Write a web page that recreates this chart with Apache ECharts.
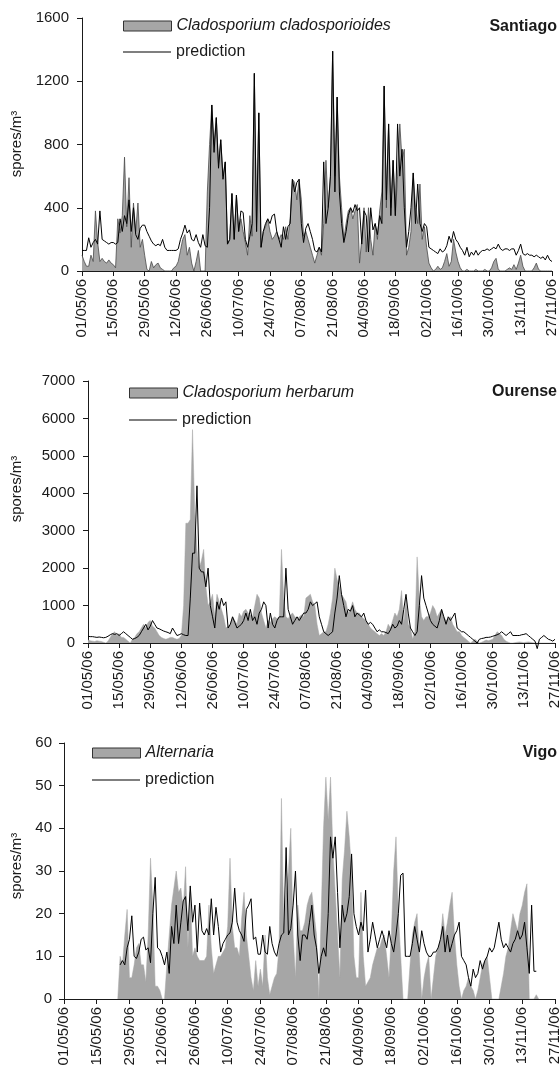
<!DOCTYPE html>
<html>
<head>
<meta charset="utf-8">
<script src="https://cdn.jsdelivr.net/npm/echarts@6/dist/echarts.min.js"></script>
<style>
html, body { margin: 0; padding: 0; background: #fff; }
#chart { width: 559px; height: 1075px; }
</style>
</head>
<body>
<div id="chart"></div>
<script>
// daily categories 01/05/06 .. 27/11/06
var firstDay = [2006, 4, 1];
var dayCount = 211;

var santiagoObs = [
    100, 60, 30, 30, 100, 60, 380, 180, 60, 80, 60, 50, 70, 50,
    40, 20, 330, 240, 350, 720, 280, 590, 150, 430, 250, 430, 150, 200,
    100, 10, 0, 60, 20, 40, 50, 20, 10, 0, 0, 0, 0, 20,
    30, 60, 130, 200, 230, 100, 150, 50, 0, 60, 130, 0, 0, 0,
    500, 800, 1050, 800, 970, 680, 830, 600, 690, 170, 200, 490, 200, 480,
    250, 330, 250, 180, 100, 350, 220, 1250, 250, 1000, 150, 250, 280, 330,
    250, 200, 220, 250, 200, 230, 200, 280, 200, 330, 580, 560, 450, 580,
    450, 220, 250, 200, 150, 100, 50, 100, 150, 100, 300, 700, 400, 600,
    1390, 600, 1100, 600, 400, 200, 300, 380, 400, 330, 380, 420, 50, 200,
    400, 120, 400, 200, 100, 300, 200, 380, 500, 1170, 400, 930, 400, 700,
    350, 600, 930, 700, 770, 100, 150, 250, 620, 400, 300, 550, 200, 280,
    150, 50, 20, 0, 10, 30, 10, 20, 60, 110, 30, 60, 200, 120,
    60, 20, 0, 0, 10, 0, 0, 0, 10, 0, 0, 0, 10, 0,
    0, 20, 60, 80, 10, 0, 0, 0, 10, 20, 10, 40, 10, 50,
    100, 30, 0, 0, 0, 0, 20, 50, 10, 0, 0, 0, 0, 0,
    0
];
var santiagoPred = [
    130, 130, 130, 210, 150, 180, 200, 170, 380, 200, 190, 180, 170, 180,
    180, 170, 180, 330, 250, 350, 300, 450, 250, 400, 230, 200, 270, 290,
    290, 250, 220, 190, 170, 160, 170, 160, 200, 150, 130, 130, 130, 130,
    130, 140, 200, 240, 290, 240, 260, 200, 190, 230, 180, 150, 230, 160,
    150, 400, 1050, 750, 970, 650, 830, 580, 690, 170, 200, 490, 200, 480,
    250, 380, 370, 200, 150, 220, 300, 1250, 250, 1000, 150, 250, 300, 330,
    300, 350, 360, 250, 200, 150, 280, 200, 280, 300, 580, 500, 560, 580,
    300, 180, 270, 300, 250, 200, 130, 120, 150, 120, 690, 300, 400, 600,
    1390, 500, 1100, 500, 300, 180, 250, 350, 400, 370, 420, 380, 400, 170,
    380, 350, 120, 400, 260, 300, 230, 350, 300, 1170, 450, 930, 350, 700,
    350, 930, 600, 770, 400, 150, 250, 400, 620, 300, 550, 300, 250, 300,
    280, 150, 140, 130, 120, 110, 140, 120, 130, 160, 220, 180, 250, 200,
    180, 150, 130, 100, 150, 90, 120, 100, 130, 100, 120, 130, 130, 140,
    130, 140, 150, 140, 170, 140, 130, 140, 140, 130, 140, 140, 100, 130,
    170, 110, 100, 110, 100, 100, 90, 100, 90, 80, 90, 70, 100, 70,
    60
];

var ourenseObs = [
    80, 60, 50, 40, 60, 50, 40, 20, 0, 50, 150, 250, 300, 200,
    250, 150, 150, 100, 50, 0, 100, 150, 250, 300, 400, 500, 400, 550,
    600, 450, 400, 300, 200, 150, 120, 100, 120, 150, 150, 120, 100, 120,
    200, 1000, 3200, 3200, 3300, 5700, 3500, 2500, 2000, 2200, 2500, 1500, 1000, 1100,
    1300, 700, 1300, 1100, 900, 700, 400, 450, 500, 700, 600, 500, 800, 700,
    850, 900, 800, 750, 700, 1000, 1300, 1200, 800, 600, 400, 600, 550, 650,
    700, 650, 700, 2500, 1200, 700, 650, 750, 800, 700, 650, 700, 750, 700,
    1200, 1250, 1300, 1100, 1000, 500, 200, 250, 300, 300, 500, 800, 1200, 2000,
    1700, 1500, 1300, 1200, 1100, 800, 900, 1100, 900, 800, 800, 700, 650, 600,
    500, 400, 350, 300, 250, 200, 250, 200, 300, 500, 400, 600, 800, 700,
    900, 1400, 500, 1200, 500, 400, 100, 300, 2300, 1200, 700, 600, 700, 700,
    800, 1000, 900, 700, 800, 900, 700, 600, 650, 700, 500, 400, 300, 300,
    200, 150, 100, 50, 0, 50, 100, 50, 0, 20, 50, 80, 60, 80,
    100, 200, 300, 250, 200, 100, 50, 20, 0, 0, 10, 20, 30, 20,
    10, 20, 30, 20, 10, 0, 0, 0, 0, 0, 0, 0, 0, 0,
    0
];
var ourensePred = [
    180, 170, 170, 160, 150, 160, 150, 140, 150, 180, 220, 250, 230, 250,
    200, 250, 300, 250, 200, 150, 100, 120, 150, 200, 300, 400, 500, 350,
    450, 600, 500, 400, 380, 350, 320, 300, 280, 250, 400, 300, 200, 220,
    250, 220, 200, 200, 1200, 2400, 2400, 4200, 2000, 1900, 1900, 1500, 2000, 1000,
    700, 400, 1100, 900, 1200, 1000, 1100, 400, 500, 700, 550, 400, 450, 500,
    600, 800, 600, 900, 600, 700, 500, 800, 900, 1100, 1000, 400, 800, 500,
    400, 600, 700, 700, 700, 2000, 900, 700, 500, 600, 700, 600, 700, 800,
    800, 900, 1100, 1000, 1050, 1100, 700, 500, 300, 250, 200, 250, 300, 800,
    1200, 1800, 1300, 1000, 700, 900, 850, 1000, 700, 800, 750, 700, 800, 600,
    500, 550, 500, 400, 300, 350, 300, 300, 280, 250, 350, 500, 400, 450,
    600, 500, 900, 1300, 800, 400, 300, 200, 300, 1000, 1800, 1200, 1000, 800,
    600, 500, 450, 400, 600, 900, 700, 500, 700, 600, 700, 800, 400, 350,
    300, 300, 250, 200, 150, 100, 50, 0, 100, 120, 130, 150, 150, 160,
    180, 200, 220, 250, 300, 250, 200, 250, 300, 200, 200, 200, 200, 220,
    230, 250, 200, 150, 100, 50, -150, 100, 150, 200, 150, 100, 80, 50,
    100
];

var vigoObs = [
    null, null, null, null, null, null, null, null, null, null, null, null, null, null,
    null, null, null, null, null, null, null, null, null, 0, 10, 8, 15, 21,
    5, 5, 8, 12, 13, 8, 8, 4, 15, 33, 22, 3, 3, 2,
    0, 0, 8, 15, 22, 26, 30, 25, 26, 21, 31, 12, 25, 10,
    12, 10, 9, 9, 9, 10, 22, 12, 6, 8, 10, 10, 11, 12,
    17, 33, 17, 12, 12, 10, 19, 25, 15, 10, 5, 2, 9, 3,
    7, 3, 15, 5, 1, 3, 5, 6, 12, 47, 17, 25, 30, 40,
    15, 5, 22, 16, 16, 18, 22, 24, 25, 20, 15, 0, 20, 40,
    52, 42, 52, 35, 25, 15, 5, 28, 35, 44, 38, 30, 10, 5,
    5, 25, 10, 3, 4, 5, 8, 10, 12, 12, 14, 15, 10, 5,
    15, 30, 38, 20, 10, 0, 0, 0, 8, 15, 18, 20, 10, 0,
    5, 8, 10, 0, 5, 10, 12, 14, 20, 15, 18, 22, 25, 15,
    8, 3, 0, 2, 3, 5, 3, 2, 0, 2, 5, 8, 9, 10,
    5, 0, 0, 0, 0, 3, 6, 10, 12, 16, 20, 18, 16, 20,
    22, 25, 27, 0, 0, 0, 1, 0, null, null, null, null, null, null,
    null
];
var vigoPred = [
    null, null, null, null, null, null, null, null, null, null, null, null, null, null,
    null, null, null, null, null, null, null, null, null, null, 8, 9, 8, 12,
    14, 19.5, 10, 9.5, 11, 14, 14.5, 11.5, 12, 8.5, 20, 28.5, 12, 11.5,
    10, 8, 11, 6, 17, 13, 22, 13, 18, 23, 24, 16, 26.5, 18,
    22, 11, 22.5, 16, 15, 16.5, 15, 23.5, 15, 21.5, 17, 11, 13, 14,
    15, 15.5, 18, 26, 18, 16, 15, 13.5, 21, 22, 23.5, 14, 14.5, 10.5,
    10.5, 15, 11, 10.5, 17, 13, 11, 10, 13, 15, 15.5, 35.5, 15, 16.5,
    22, 30, 15, 9, 15, 15, 14, 18, 22, 15, 12, 6, 10, 12,
    10, 20, 38, 33, 38, 25, 12, 22, 18, 20, 24, 34, 20, 17,
    15, 18, 16, 25.5, 11, 14, 18, 15, 12, 14, 16, 14, 12, 16,
    13, 11, 15, 20, 29, 29.5, 10, 10, 10, 13, 17, 14, 11, 16,
    13, 11, 10, 10, 11, 11, 12, 14, 17, 11, 15, 11, 13, 15,
    16, 18, 10, 9, 8, 5, 3, 7, 5, 6, 9, 7, 9, 10,
    12, 11, 12, 15, 18, 14, 12, 13, 12, 11, 13, 14, 16, 14,
    15, 18, 12, 6, 22, 6.5, 6.5, null, null, null, null, null, null, null,
    null
];

var santiagoTicks = [0, 1600, 400];
var ourenseTicks = [0, 7000, 1000];
var vigoTicks = [0, 60, 10];

var font = '"Liberation Sans", Arial, Helvetica, sans-serif';
var ink = '#1a1a1a';
var areaGray = '#a6a6a6';

var days = [];
for (var i = 0; i < dayCount; i++) {
    var d = new Date(Date.UTC(firstDay[0], firstDay[1], firstDay[2] + i));
    var dd = ('0' + d.getUTCDate()).slice(-2);
    var mm = ('0' + (d.getUTCMonth() + 1)).slice(-2);
    days.push(dd + '/' + mm + '/' + String(d.getUTCFullYear()).slice(-2));
}

// one panel per station
var panels = [
    { station: 'Santiago', taxon: 'Cladosporium cladosporioides', obs: santiagoObs, pred: santiagoPred, ticks: santiagoTicks,
      grid: [82, 18, 470, 253], legend: [123, 18, 44], labelMargin: 13, outline: true, nameY: 144, stationY: 27 },
    { station: 'Ourense', taxon: 'Cladosporium herbarum', obs: ourenseObs, pred: ourensePred, ticks: ourenseTicks,
      grid: [88, 381, 467, 262], legend: [129, 385, 412], labelMargin: 13, outline: false, nameY: 489, stationY: 392 },
    { station: 'Vigo', taxon: 'Alternaria', obs: vigoObs, pred: vigoPred, ticks: vigoTicks,
      grid: [64, 743, 491, 256], legend: [92, 745, 772], labelMargin: 12, outline: false, nameY: 866, stationY: 753 }
];

var option = {
    animation: false,
    backgroundColor: '#fff',
    textStyle: { fontFamily: font },
    grid: [], xAxis: [], yAxis: [], series: [], legend: [], graphic: []
};

panels.forEach(function(p, k) {
    option.grid.push({ left: p.grid[0], top: p.grid[1], width: p.grid[2], height: p.grid[3], outerBoundsMode: 'none', containLabel: false });
    option.xAxis.push({
        type: 'category', gridIndex: k, data: days, boundaryGap: false,
        axisLine: { lineStyle: { color: ink, width: 1 } },
        axisTick: { show: true, interval: 13, length: 5, inside: false, lineStyle: { color: ink } },
        axisLabel: { interval: 13, rotate: 90, margin: 8, fontSize: 15, color: ink, fontFamily: font },
        splitLine: { show: false }
    });
    option.yAxis.push({
        type: 'value', gridIndex: k, min: p.ticks[0], max: p.ticks[1], interval: p.ticks[2],
        axisLine: { show: true, lineStyle: { color: ink, width: 1 } },
        axisTick: { show: true, length: 5, inside: false, lineStyle: { color: ink } },
        axisLabel: { margin: p.labelMargin, fontSize: 15, color: ink, fontFamily: font,
                     formatter: function(v) { return String(v); } },
        splitLine: { show: false }
    });
    option.series.push({
        name: p.taxon, type: 'line', xAxisIndex: k, yAxisIndex: k, data: p.obs,
        symbol: 'none', showSymbol: false, connectNulls: false, color: areaGray,
        lineStyle: p.outline ? { color: '#4a4a4a', width: 0.8 } : { color: areaGray, width: 0.5 },
        areaStyle: { color: areaGray, opacity: 1 },
        z: 2
    });
    option.series.push({
        name: 'prediction', type: 'line', xAxisIndex: k, yAxisIndex: k, data: p.pred,
        symbol: 'none', showSymbol: false, connectNulls: false, clip: false, color: '#000',
        lineStyle: { color: '#000', width: 1 },
        z: 3
    });
    option.legend.push({
        data: [{ name: p.taxon, icon: 'rect' }],
        left: p.legend[0], top: p.legend[1], padding: 0, selectedMode: false,
        itemWidth: 48, itemHeight: 10,
        itemStyle: { color: areaGray, borderColor: '#333', borderWidth: 1 },
        textStyle: { fontSize: 16, fontStyle: 'italic', color: ink, fontFamily: font }
    });
    option.legend.push({
        data: [{ name: 'prediction', icon: 'rect' }],
        left: p.legend[0], top: p.legend[2], padding: 0, selectedMode: false,
        itemWidth: 48, itemHeight: 1,
        itemStyle: { color: '#000', borderWidth: 0 },
        textStyle: { fontSize: 16, color: ink, fontFamily: font }
    });
    option.graphic.push({
        type: 'text', x: 17, y: p.nameY, rotation: Math.PI / 2,
        style: { text: 'spores/m³', fill: ink, font: '15px ' + font,
                 textAlign: 'center', textVerticalAlign: 'middle', align: 'center', verticalAlign: 'middle' }
    });
    option.graphic.push({
        type: 'text', x: 557, y: p.stationY,
        style: { text: p.station, fill: ink, font: 'bold 16px ' + font,
                 textAlign: 'right', textVerticalAlign: 'middle', align: 'right', verticalAlign: 'middle' }
    });
});

var chart = echarts.init(document.getElementById('chart'), null, { renderer: 'canvas' });
chart.setOption(option);
</script>
</body>
</html>
